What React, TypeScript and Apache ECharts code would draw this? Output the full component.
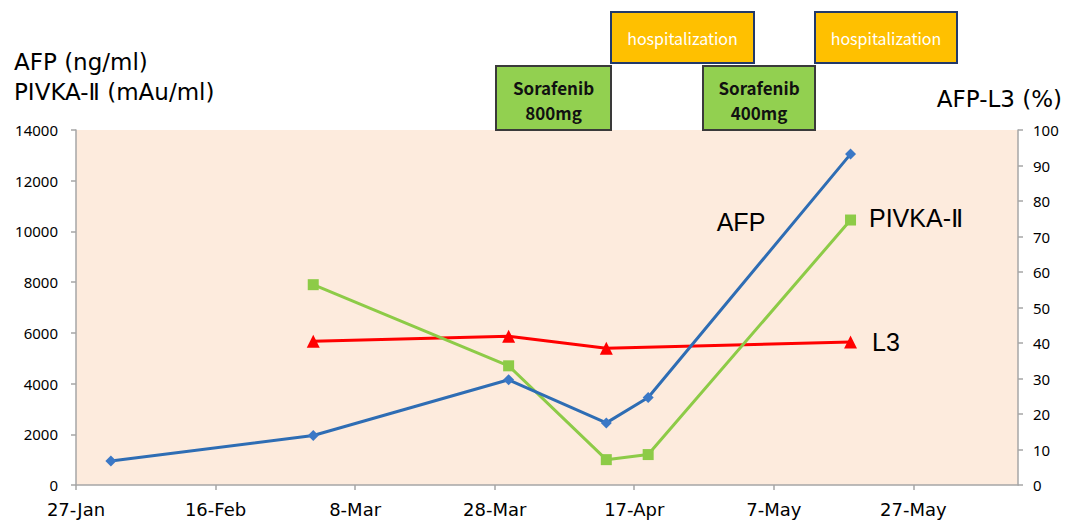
import React, { useEffect, useRef } from 'react';
import * as echarts from 'echarts';

// ---- data ----
const START_DATE = '2019-01-27';
const X_MAX_DAYS = 135;
const xTickDays = [0, 20, 40, 60, 80, 100, 120];
const leftTicks = { min: 0, max: 14000, interval: 2000 };
const rightTicks = { min: 0, max: 100, interval: 10 };

const afpDates = ['2019-02-01', '2019-03-02', '2019-03-30', '2019-04-13', '2019-04-19', '2019-05-18'];
const afpValues = [950, 1950, 4150, 2450, 3450, 13050];

const pivkaDates = ['2019-03-02', '2019-03-30', '2019-04-13', '2019-04-19', '2019-05-18'];
const pivkaValues = [7900, 4700, 1000, 1200, 10450];

const l3Dates = ['2019-03-02', '2019-03-30', '2019-04-13', '2019-05-18'];
const l3Values = [40.5, 41.9, 38.5, 40.3];

const MONTHS = ['Jan', 'Feb', 'Mar', 'Apr', 'May', 'Jun', 'Jul', 'Aug', 'Sep', 'Oct', 'Nov', 'Dec'];

function toUTC(s: string) {
  const [y, m, d] = s.split('-').map(Number);
  return Date.UTC(y, m - 1, d);
}
const startMs = toUTC(START_DATE);
function dayOffset(s: string) {
  return Math.round((toUTC(s) - startMs) / 86400000);
}
function dayLabel(v: number) {
  const dt = new Date(startMs + v * 86400000);
  return dt.getUTCDate() + '-' + MONTHS[dt.getUTCMonth()];
}
function pairs(dates: string[], vals: number[]) {
  return dates.map((d, i) => [dayOffset(d), vals[i]]);
}

const JP = "'Noto Sans CJK JP', 'Noto Sans', sans-serif";
const WIDE = "'DejaVu Sans', 'Noto Sans', sans-serif";
const NUM = "'Noto Sans', 'DejaVu Sans', sans-serif";
const LBL = "'Liberation Sans', 'DejaVu Sans', sans-serif";

export default function App() {
  const ref = useRef<HTMLDivElement>(null);
  useEffect(() => {
    if (!ref.current) return;
    const chart = echarts.init(ref.current, undefined, { renderer: 'svg' });
    const axisLineStyle = { color: '#A6A6A6', width: 1.5 };
    const boxText = (text: string, x: number, y: number, size: number, color: string, weight: any) => ({
      type: 'text',
      x,
      y,
      style: {
        text,
        fill: color,
        fontSize: size,
        fontFamily: JP,
        fontWeight: weight,
        align: 'center',
        verticalAlign: 'middle',
        textAlign: 'center',
        textVerticalAlign: 'middle',
      },
      z: 20,
    });
    const seriesLabel = (text: string, x: number, y: number, align: string) => ({
      type: 'text',
      x,
      y,
      style: {
        text,
        fill: '#000',
        fontSize: 25,
        fontFamily: LBL,
        align,
        verticalAlign: 'middle',
        textAlign: align,
        textVerticalAlign: 'middle',
      },
      z: 20,
    });
    const option: any = {
      animation: false,
      backgroundColor: '#ffffff',
      grid: {
        left: 76,
        right: 49,
        top: 130,
        bottom: 36,
        show: true,
        backgroundColor: '#FDEBDD',
        borderWidth: 0,
      },
      xAxis: {
        type: 'value',
        min: 0,
        max: X_MAX_DAYS,
        interval: 20,
        splitLine: { show: false },
        axisLine: { show: true, lineStyle: axisLineStyle },
        axisTick: { show: true, length: 5, lineStyle: axisLineStyle, customValues: xTickDays },
        axisLabel: {
          customValues: xTickDays,
          formatter: (v: number) => dayLabel(v),
          color: '#000',
          fontSize: 18,
          fontFamily: WIDE,
          margin: 15,
        },
      },
      yAxis: [
        {
          type: 'value',
          position: 'left',
          min: leftTicks.min,
          max: leftTicks.max,
          interval: leftTicks.interval,
          splitLine: { show: false },
          axisLine: { show: true, lineStyle: axisLineStyle },
          axisTick: { show: true, length: 5, lineStyle: axisLineStyle },
          axisLabel: { color: '#000', fontSize: 15, fontFamily: NUM, margin: 18, formatter: (v: number) => String(v) },
        },
        {
          type: 'value',
          position: 'right',
          min: rightTicks.min,
          max: rightTicks.max,
          interval: rightTicks.interval,
          splitLine: { show: false },
          axisLine: { show: true, lineStyle: axisLineStyle },
          axisTick: { show: true, length: 5, lineStyle: axisLineStyle },
          axisLabel: { color: '#000', fontSize: 15, fontFamily: NUM, margin: 15, formatter: (v: number) => String(v) },
        },
      ],
      series: [
        {
          name: 'L3',
          type: 'line',
          yAxisIndex: 1,
          data: pairs(l3Dates, l3Values),
          symbol: 'triangle',
          symbolSize: 13,
          lineStyle: { color: '#FF0000', width: 3 },
          itemStyle: { color: '#FF0000' },
          z: 3,
        },
        {
          name: 'PIVKA-Ⅱ',
          type: 'line',
          yAxisIndex: 0,
          data: pairs(pivkaDates, pivkaValues),
          symbol: 'rect',
          symbolSize: 11,
          lineStyle: { color: '#8DCB47', width: 3 },
          itemStyle: { color: '#8DCB47' },
          z: 4,
        },
        {
          name: 'AFP',
          type: 'line',
          yAxisIndex: 0,
          data: pairs(afpDates, afpValues),
          symbol: 'diamond',
          symbolSize: 11,
          lineStyle: { color: '#2E6DB4', width: 3 },
          itemStyle: { color: '#3B78C6' },
          z: 5,
        },
      ],
      graphic: [
        { type: 'text', left: 14, top: 50, style: { text: 'AFP (ng/ml)', fill: '#000', fontSize: 23, fontFamily: WIDE } },
        { type: 'text', left: 14, top: 80, style: { text: 'PIVKA-Ⅱ (mAu/ml)', fill: '#000', fontSize: 23, fontFamily: WIDE } },
        { type: 'text', right: 5, top: 87, style: { text: 'AFP-L3 (%)', fill: '#000', fontSize: 23, fontFamily: WIDE } },
        // treatment boxes
        { type: 'rect', shape: { x: 496, y: 66, width: 115, height: 64 }, style: { fill: '#92D050', stroke: '#3A3A3A', lineWidth: 2 }, z: 10 },
        boxText('Sorafenib', 553.5, 87, 17, '#111', 'bold'),
        boxText('800mg', 553.5, 112, 17, '#111', 'bold'),
        { type: 'rect', shape: { x: 611, y: 12, width: 143, height: 51 }, style: { fill: '#FFC000', stroke: '#22396A', lineWidth: 2 }, z: 10 },
        boxText('hospitalization', 682.5, 38, 16, '#ffffff', 'normal'),
        { type: 'rect', shape: { x: 703, y: 66, width: 112, height: 64 }, style: { fill: '#92D050', stroke: '#3A3A3A', lineWidth: 2 }, z: 10 },
        boxText('Sorafenib', 759, 87, 17, '#111', 'bold'),
        boxText('400mg', 759, 112, 17, '#111', 'bold'),
        { type: 'rect', shape: { x: 815, y: 12, width: 142, height: 51 }, style: { fill: '#FFC000', stroke: '#22396A', lineWidth: 2 }, z: 10 },
        boxText('hospitalization', 886, 38, 16, '#ffffff', 'normal'),
        // series labels
        seriesLabel('AFP', 741, 222, 'center'),
        seriesLabel('PIVKA-Ⅱ', 869, 218, 'left'),
        seriesLabel('L3', 872, 342, 'left'),
      ],
    };
    chart.setOption(option);
    return () => chart.dispose();
  }, []);
  return (
    <div
      ref={ref}
      style={{ position: 'fixed', left: 0, top: 0, width: 1067, height: 521, background: '#fff' }}
    />
  );
}
